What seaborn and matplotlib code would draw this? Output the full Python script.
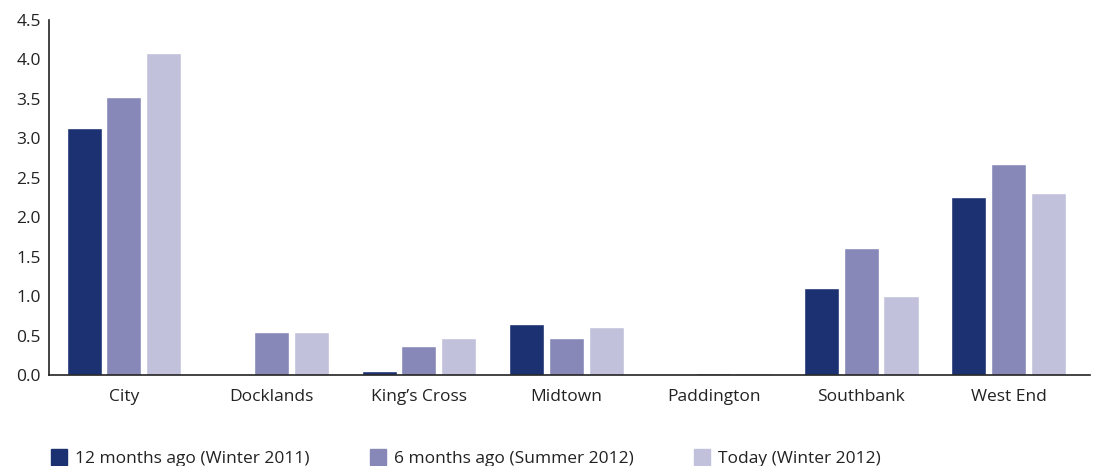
import matplotlib
matplotlib.use("Agg")
import matplotlib.pyplot as plt
import seaborn as sns
import pandas as pd
from matplotlib.lines import Line2D

categories = ["City", "Docklands", "King\u2019s Cross", "Midtown", "Paddington", "Southbank", "West End"]
series_names = ["12 months ago (Winter 2011)", "6 months ago (Summer 2012)", "Today (Winter 2012)"]
winter_2011 = [3.13, 0.0, 0.05, 0.65, 0.0, 1.10, 2.26]
summer_2012 = [3.53, 0.55, 0.37, 0.47, 0.025, 1.61, 2.68]
winter_2012 = [4.08, 0.55, 0.47, 0.61, 0.03, 1.00, 2.31]
colors = ["#1c3172", "#8788b7", "#c1c1dc"]

rows = []
for name, vals in zip(series_names, [winter_2011, summer_2012, winter_2012]):
    for c, v in zip(categories, vals):
        rows.append({"area": c, "series": name, "value": v})
df = pd.DataFrame(rows)

sns.set_theme(style="white")
plt.rcParams['font.family'] = ['Open Sans', 'DejaVu Sans']

fig = plt.figure(figsize=(10.93, 4.66), dpi=100)
ax = fig.add_axes([0.045, 0.195, 0.952, 0.762])
sns.barplot(data=df, x="area", y="value", hue="series", order=categories,
            hue_order=series_names, palette=colors, width=0.81, gap=0.12,
            saturation=1, legend=False, ax=ax, errorbar=None)

ax.set_ylim(0, 4.5)
ax.set_xlim(-0.507, 6.55)
ax.set_yticks([0, 0.5, 1, 1.5, 2, 2.5, 3, 3.5, 4, 4.5])
ax.set_yticklabels([f"{t:.1f}" for t in [0, 0.5, 1, 1.5, 2, 2.5, 3, 3.5, 4, 4.5]])
ax.set_xlabel("")
ax.set_ylabel("")
for s in ["top", "right"]:
    ax.spines[s].set_visible(False)
for s in ["left", "bottom"]:
    ax.spines[s].set_color("#222222")
    ax.spines[s].set_linewidth(1.2)
ax.tick_params(axis="both", length=0, labelsize=12.5, colors="#222222")
ax.tick_params(axis="x", pad=10)
ax.tick_params(axis="y", pad=6)

handles = [Line2D([0], [0], marker="s", linestyle="none", markersize=11,
                  markerfacecolor=c, markeredgecolor=c) for c in colors]
fig.legend(handles, series_names, loc="lower left", bbox_to_anchor=(0.032, -0.035),
           ncol=3, frameon=False, fontsize=12.5, handletextpad=0.4, columnspacing=3.45,
           handlelength=1.0, labelcolor="#222222")

fig.savefig("out.png", dpi=100)
